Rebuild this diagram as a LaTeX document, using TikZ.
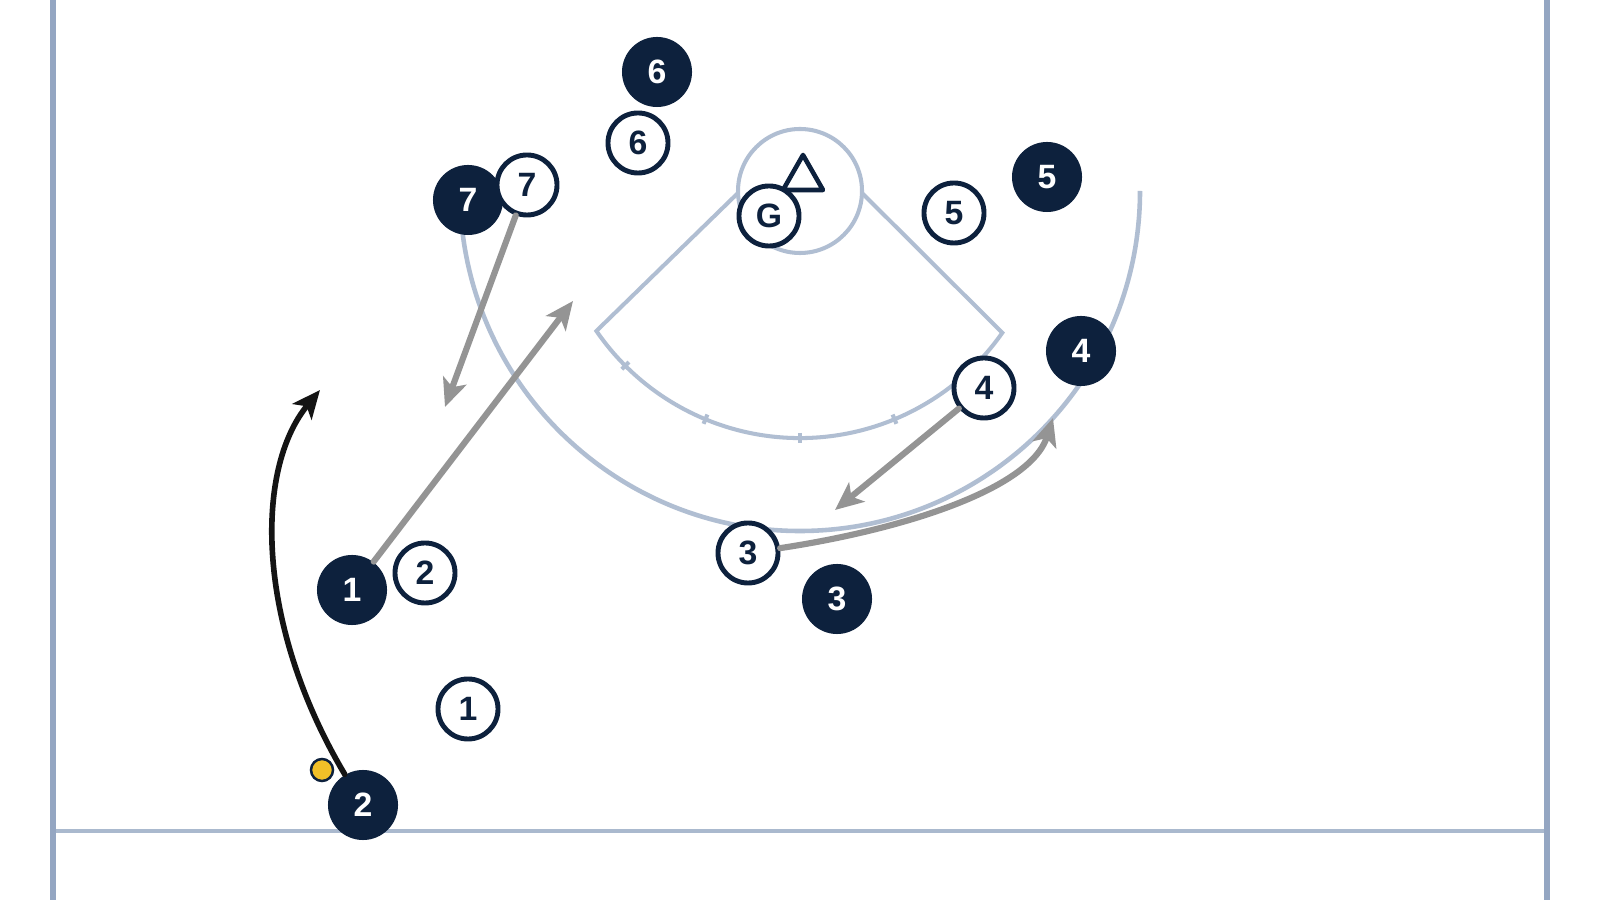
\documentclass[tikz,border=0pt]{standalone}
\usepackage{fontspec}
\setmainfont{Liberation Sans}
\usetikzlibrary{arrows.meta}
\definecolor{navy}{RGB}{13,33,61}
\definecolor{fieldline}{RGB}{148,166,194}
\definecolor{fieldlight}{RGB}{170,185,206}
\definecolor{creaseline}{RGB}{176,190,210}
\definecolor{movegray}{RGB}{148,148,148}
\definecolor{ballyellow}{RGB}{242,192,40}
\begin{document}
\begin{tikzpicture}[x=0.01cm,y=0.01cm,
  numfont/.style={font=\fontsize{9.6}{10}\selectfont\bfseries},
  offp/.style={circle,draw=navy,fill=white,line width=1.4pt,minimum size=0.60cm,inner sep=0pt,text=navy,numfont},
  defp/.style={circle,fill=navy,minimum size=0.70cm,inner sep=0pt,text=white,numfont},
  ballst/.style={circle,fill=ballyellow,draw=navy,line width=0.7pt,minimum size=0.22cm,inner sep=0pt},
  fieldst/.style={draw=fieldline,line width=1.5pt},
  crease/.style={draw=creaseline,line width=1.15pt},
  move/.style={draw=movegray,line width=1.75pt,line cap=round,-{Stealth[length=8pt,width=7pt,inset=2pt]}},
  carry/.style={draw=black!92,line width=1.6pt,line cap=round,-{Stealth[length=8pt,width=7pt,inset=2pt]}}
]
\useasboundingbox (0,0) rectangle (1600,900);
\fill[white] (0,0) rectangle (1600,900);
% field
\draw[draw=fieldlight,line width=1.2pt] (53,69) -- (1547,69);
\draw[fieldst] (53,0) -- (53,900);
\draw[fieldst] (1547,0) -- (1547,900);
% crease and fan
\draw[crease] (800,709) circle[radius=62];
\draw[crease] (738,707) -- (596.4,569) arc[start angle=214.5,end angle=325,radius=247] -- (862,707);
\foreach \a in {225,247.5,270,292.5,315} \draw[crease] (800,709) ++(\a:242) -- ++(\a:10);
\draw[crease,line width=1.3pt] (800,709) ++(183:340) arc[start angle=183,end angle=360,radius=340];
% goal
\draw[navy,line width=1.3pt,line join=round] (803,745) -- (783,710) -- (823,710) -- cycle;
% players
\node[defp] (D6) at (657,828) {6};
\node[defp] (D7) at (468,700) {7};
\node[defp] (D5) at (1047,723) {5};
\node[defp] (D4) at (1081,549) {4};
\node[defp] (D1) at (352,310) {1};
\node[defp] (D3) at (837,301) {3};
\node[offp] (W6) at (638,757) {6};
\node[offp] (W7) at (527,715) {7};
\node[offp] (G) at (769,684) {G};
\node[offp] (W5) at (954,687) {5};
\node[offp] (W4) at (984,512) {4};
\node[offp] (W2) at (425,327) {2};
\node[offp] (W3) at (748,347) {3};
\node[offp] (W1) at (468,191) {1};
\node[ballst] (ball) at (322,130) {};
\node[defp] (D2) at (363,95) {2};
% movements
\coordinate (a1) at (573,599);
\coordinate (a2) at (445,493);
\coordinate (a3) at (835,390);
\coordinate (a4) at (1053,482);
\coordinate (a5) at (320,510);
\draw[move] (D1) -- (a1);
\draw[move] (W7) -- (a2);
\draw[move] (W4) -- (a3);
\draw[move] (W3) .. controls (900,370) and (1030,410) .. (a4);
\draw[carry] (D2) .. controls (256,275) and (254,430) .. (a5);
\end{tikzpicture}
\end{document}
